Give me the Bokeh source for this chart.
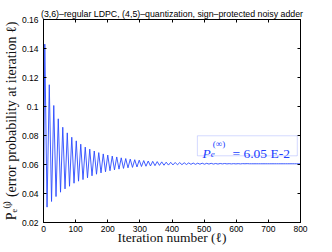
from bokeh.plotting import figure
from bokeh.models import Range1d, FixedTicker, LinearAxis, Label, BoxAnnotation, ColumnDataSource, Title
from bokeh.embed import file_html
from bokeh.resources import INLINE

# ---------------- data ----------------
start_iteration = 0
start_value = 0.028
peak_iterations = list(range(4, 800, 14))
peak_values = [
    0.1430, 0.1150, 0.1007, 0.0915, 0.0857, 0.0818, 0.0788, 0.0763, 0.0740, 0.0720,
    0.0706, 0.0693, 0.0682, 0.0673, 0.0665, 0.0658, 0.0652, 0.0646, 0.0641, 0.0637,
    0.0633, 0.0630, 0.0627, 0.0624, 0.0622, 0.0620, 0.0618, 0.0616, 0.0615, 0.0614,
    0.0613, 0.0612, 0.0611, 0.0610, 0.0609, 0.0609, 0.0608, 0.0608, 0.0607, 0.0607,
    0.0607, 0.0606, 0.0606, 0.0606, 0.0606, 0.0606, 0.0605, 0.0605, 0.0605, 0.0605,
    0.0605, 0.0605, 0.0605, 0.0605, 0.0605, 0.0605, 0.0605,
]
trough_iterations = list(range(11, 800, 14))
trough_values = [
    0.0306, 0.0345, 0.0379, 0.0409, 0.0432, 0.0450, 0.0471, 0.0485, 0.0496, 0.0508,
    0.0522, 0.0533, 0.0542, 0.0550, 0.0557, 0.0563, 0.0568, 0.0573, 0.0577, 0.0580,
    0.0583, 0.0586, 0.0588, 0.0590, 0.0592, 0.0594, 0.0595, 0.0596, 0.0597, 0.0598,
    0.0599, 0.0600, 0.0601, 0.0601, 0.0602, 0.0602, 0.0603, 0.0603, 0.0603, 0.0604,
    0.0604, 0.0604, 0.0604, 0.0604, 0.0605, 0.0605, 0.0605, 0.0605, 0.0605, 0.0605,
    0.0605, 0.0605, 0.0605, 0.0605, 0.0605, 0.0605, 0.0605,
]
end_iteration = 800
end_value = 0.0605

x_ticks = [0, 100, 200, 300, 400, 500, 600, 700, 800]
x_tick_labels = ["0", "100", "200", "300", "400", "500", "600", "700", "800"]
y_ticks = [0.02, 0.04, 0.06, 0.08, 0.1, 0.12, 0.14, 0.16]
y_tick_labels = ["0.02", "0.04", "0.06", "0.08", "0.1", "0.12", "0.14", "0.16"]

title_text = "(3,6)\u2013regular LDPC, (4,5)\u2013quantization, sign\u2013protected noisy adder"
xlabel_text = "Iteration number (\u2113)"
ylabel_text = "P\u2091\u207d\u02e1\u207e (error probability at iteration \u2113)"
limit_value_text = "= 6.05 E-2"

# ---------------- assemble series ----------------
iters = [start_iteration]
vals = [start_value]
for pi_, pv, ti, tv in zip(peak_iterations, peak_values, trough_iterations, trough_values):
    iters += [pi_, ti]
    vals += [pv, tv]
iters.append(end_iteration)
vals.append(end_value)
src = ColumnDataSource(data=dict(it=iters, pe=vals))

serif = "Liberation Serif"
sans = "Liberation Sans"

p = figure(width=332, height=252,
           x_range=Range1d(0, 800), y_range=Range1d(0.02, 0.16),
           output_backend="svg", toolbar_location=None,
           min_border_left=43, min_border_right=32,
           min_border_top=19, min_border_bottom=30)
p.title = Title(text=title_text, align="center", offset=2, text_font=sans,
                text_font_size="8.8px", text_font_style="normal", text_color="black",
                standoff=2)
p.background_fill_color = "white"
p.border_fill_color = "white"
p.outline_line_color = "black"
p.outline_line_width = 1
p.grid.visible = False

p.line("it", "pe", source=src, line_color="#2a4bff", line_width=0.9)

def style_axis(ax, ticks, labels, show_labels):
    ax.ticker = FixedTicker(ticks=ticks)
    ax.major_label_overrides = {t: l for t, l in zip(ticks, labels)}
    ax.minor_tick_line_color = None
    ax.major_tick_in = 3
    ax.major_tick_out = 0
    ax.major_tick_line_color = "black"
    ax.axis_line_color = "black"
    ax.major_label_text_font = sans
    ax.major_label_text_color = "black"
    if show_labels:
        ax.major_label_text_font_size = "8.5px"
    else:
        ax.major_label_text_font_size = "0px"
        ax.major_label_standoff = 0

style_axis(p.xaxis[0], x_ticks, x_tick_labels, True)
p.xaxis[0].major_label_standoff = 3
p.xaxis[0].axis_label = xlabel_text
p.xaxis[0].axis_label_text_font = serif
p.xaxis[0].axis_label_text_font_size = "13.5px"
p.xaxis[0].axis_label_text_font_style = "normal"
p.xaxis[0].axis_label_text_color = "#111111"
p.xaxis[0].axis_label_standoff = -5

style_axis(p.yaxis[0], y_ticks, y_tick_labels, True)
p.yaxis[0].major_label_standoff = 5

top_ax = LinearAxis()
style_axis(top_ax, x_ticks, x_tick_labels, False)
p.add_layout(top_ax, "above")
right_ax = LinearAxis()
style_axis(right_ax, y_ticks, y_tick_labels, False)
p.add_layout(right_ax, "right")

# y label as a title on the left side
p.add_layout(Title(text=ylabel_text, align="center", offset=-4, text_font=serif,
                   text_font_size="14px", text_font_style="normal",
                   text_color="#111111", standoff=0), "left")

# ---------------- annotation box (data units) ----------------
def lab(text, x, y, size, font=serif, style="normal", color="black"):
    p.add_layout(Label(x=x, y=y, text=text,
                       text_font=font, text_font_size=size, text_font_style=style,
                       text_align="left", text_baseline="alphabetic",
                       text_color=color))

p.add_layout(BoxAnnotation(left=479, right=790, bottom=0.0660, top=0.0798,
                           fill_color="white", fill_alpha=1.0,
                           line_color="#7080ff", line_width=1))
blue = "#2040ff"
lab("P", 495, 0.0679, "13.5px", style="italic", color=blue)
lab("e", 521, 0.0673, "9px", style="italic", color=blue)
lab("(\u221e)", 527, 0.0738, "9px", color=blue)
lab(limit_value_text, 588, 0.0679, "13.5px", color=blue)

open("out.html", "w").write(file_html(p, INLINE))
